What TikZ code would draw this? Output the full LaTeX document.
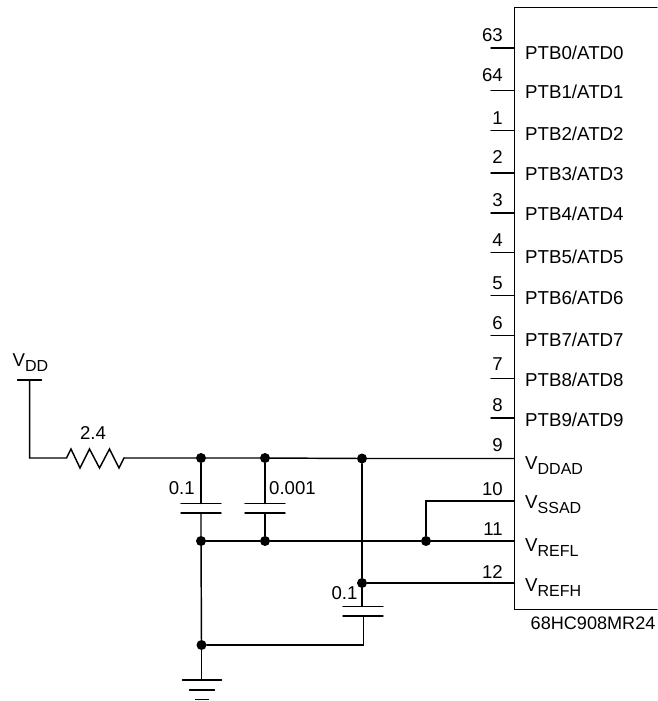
\documentclass[tikz,border=0pt]{standalone}
\usepackage{fontspec}
\setmainfont{Liberation Sans}
\tikzset{
  wire/.style={line width=1.45pt,line cap=round,line join=miter},
  dotj/.style={circle,fill=black,inner sep=0pt,minimum size=10pt},
  lbl/.style={inner sep=0pt,anchor=base west,font=\fontsize{18.7}{21}\selectfont},
  num/.style={inner sep=0pt,anchor=base east,font=\fontsize{18.6}{21}\selectfont},
  val/.style={inner sep=0pt,anchor=base,font=\fontsize{18.6}{21}\selectfont}
}
\newcommand{\Vsub}[2]{V\raisebox{-5pt}{\fontsize{16}{18}\selectfont #2}}
\begin{document}
\begin{tikzpicture}[x=1pt,y=-1pt]
\useasboundingbox (0,0) rectangle (657,701);
% IC body
\coordinate (tr) at (657,7.5);
\coordinate (tl) at (514.5,7.5);
\coordinate (bl) at (514.5,609.5);
\coordinate (br) at (657,609.5);
\draw[wire] (tr) -- (tl) -- (bl) -- (br);
% upper pins: name / pin y / number baseline / label baseline / number / label
\foreach \n/\y/\ny/\ly/\t/\l in {a/48/41.3/59.3/63/PTB0\slash ATD0,b/90.3/81.7/98.3/64/PTB1\slash ATD1,c/130.3/124/140.7/1/PTB2\slash ATD2,d/173/163.3/180.7/2/PTB3\slash ATD3,e/213/206.7/220.7/3/PTB4\slash ATD4,f/252.7/246.7/263.3/4/PTB5\slash ATD5,g/295.7/289.3/304/5/PTB6\slash ATD6,h/335.7/329.3/346.7/6/PTB7\slash ATD7,i/378.3/370/386.7/7/PTB8\slash ATD8,j/418/411.7/426/8/PTB9\slash ATD9}{
  \coordinate (p\n) at (514.5,\y);
  \coordinate (s\n) at (491,\y);
  \draw[wire] (s\n) -- (p\n);
  \node[num] (t\n) at (503,\ny) {\t};
  \node[lbl] (l\n) at (525,\ly) {\l};
}
% lower pins
\coordinate (p9) at (514.5,458.5);
\coordinate (p10) at (514.5,501);
\coordinate (p11) at (514.5,541);
\coordinate (p12) at (514.5,583);
\node[num] (t9) at (503,451.7) {9};
\node[num] (t10) at (503,495) {10};
\node[num] (t11) at (503,535) {11};
\node[num] (t12) at (503,578) {12};
\node[lbl] (l9) at (525,469) {\Vsub{V}{DDAD}};
\node[lbl] (l10) at (525,508.5) {\Vsub{V}{SSAD}};
\node[lbl] (l11) at (525,551.5) {\Vsub{V}{REFL}};
\node[lbl] (l12) at (525,591) {\Vsub{V}{REFH}};
\node[lbl,font=\fontsize{18.1}{21}\selectfont] (part) at (530.5,629) {68HC908MR24};
% VDD and resistor
\node[val] (vdd) at (30.5,366) {\Vsub{V}{DD}};
\coordinate (vl) at (17.5,380);
\coordinate (vr) at (41.5,380);
\coordinate (vt) at (29.7,380);
\coordinate (vb) at (29.7,458);
\coordinate (r0) at (66.5,458);
\coordinate (r1) at (124,458);
\draw[wire] (vl) -- (vr);
\draw[wire] (vt) -- (vb) -- (r0) -- (71,449) -- (80,468) -- (89.5,449) -- (99.5,468) -- (109.5,449) -- (119,468) -- (r1);
\node[val] (rv) at (93,439) {2.4};
% junctions
\node[dotj] (ja) at (201,458) {};
\node[dotj] (jb) at (265,458) {};
\node[dotj] (jc) at (362,458.5) {};
\node[dotj] (jd) at (201,541) {};
\node[dotj] (je) at (265,541) {};
\node[dotj] (jf) at (426,541) {};
\node[dotj] (jg) at (362,583) {};
\node[dotj] (jh) at (201.5,645) {};
% rails
\draw[wire] (r1) -- (ja) -- (jb) -- (jc) -- (p9);
\draw[wire] (jd) -- (je) -- (jf) -- (p11);
\coordinate (k10) at (426,501);
\draw[wire] (p10) -- (k10) -- (jf);
\draw[wire] (jg) -- (p12);
% capacitors
\coordinate (c1t) at (201,503.5); \coordinate (c1b) at (201,513);
\coordinate (c2t) at (265,503.5); \coordinate (c2b) at (265,513);
\coordinate (c3t) at (362,606.5); \coordinate (c3b) at (363.5,616);
\draw[wire] (181,503.5) -- (221,503.5);
\draw[wire] (181,513) -- (221,513);
\draw[wire] (245,503.5) -- (285,503.5);
\draw[wire] (245,513) -- (285,513);
\draw[wire] (343,606.5) -- (383,606.5);
\draw[wire] (343,616) -- (383,616);
\draw[wire] (ja) -- (c1t);
\draw[wire] (jb) -- (c2t);
\draw[wire] (jc) -- (jg) -- (c3t);
\draw[wire] (c1b) -- (jd) -- (jh);
\draw[wire] (c2b) -- (je);
\coordinate (c3k) at (363.5,645);
\draw[wire] (c3b) -- (c3k) -- (jh);
\node[val] (c1v) at (181.7,494) {0.1};
\node[val] (c2v) at (292.5,494) {0.001};
\node[val] (c3v) at (344.5,599.5) {0.1};
% ground
\coordinate (g0) at (201.5,680);
\draw[wire] (jh) -- (g0);
\draw[wire] (182.5,680) -- (221.5,680);
\draw[wire] (189.5,690) -- (214.5,690);
\draw[wire] (195.5,699.5) -- (208.5,699.5);
\end{tikzpicture}
\end{document}
